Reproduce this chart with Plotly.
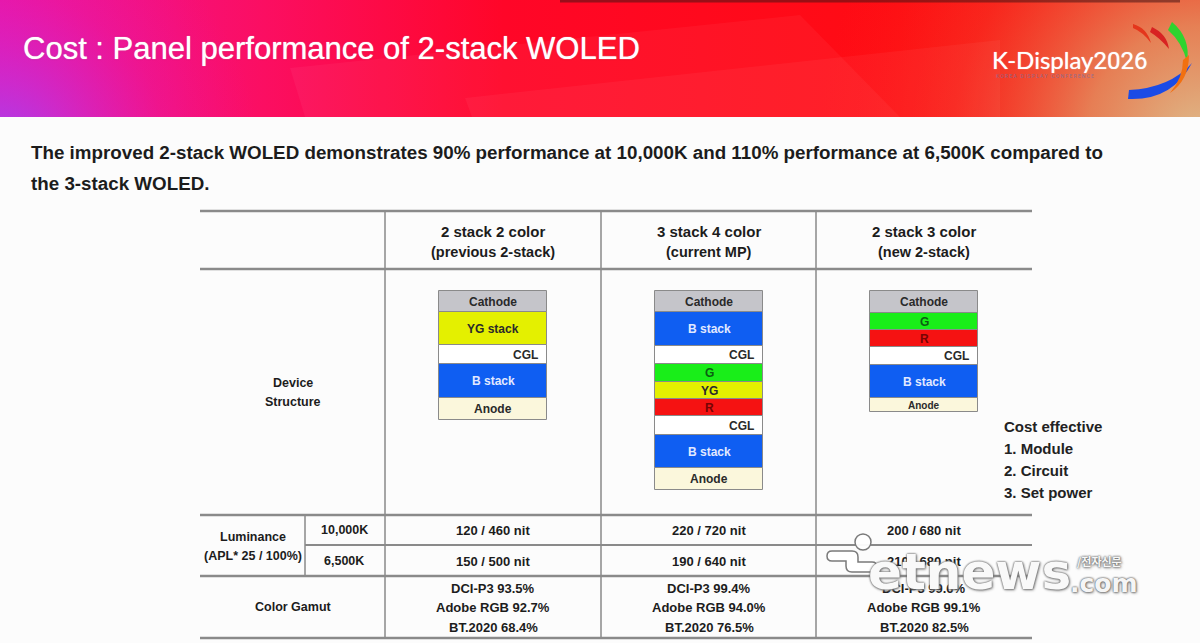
import numpy as np
import plotly.graph_objects as go

# ---- slide text ----
title_text = "Cost : Panel performance of 2-stack WOLED"
subtitle_lines = [
    "The improved 2-stack WOLED demonstrates 90% performance at 10,000K and 110% performance at 6,500K compared to",
    "the 3-stack WOLED.",
]

# ---- table data ----
col_titles = ["2 stack 2 color", "3 stack 4 color", "2 stack 3 color"]
col_subtitles = ["(previous 2-stack)", "(current MP)", "(new 2-stack)"]

stack_layers = [
    ["Cathode", "YG stack", "CGL", "B stack", "Anode"],
    ["Cathode", "B stack", "CGL", "G", "YG", "R", "CGL", "B stack", "Anode"],
    ["Cathode", "G", "R", "CGL", "B stack", "Anode"],
]
layer_thickness = [
    [21, 33, 19, 34, 22],
    [21, 34, 18, 18, 17, 17, 19, 33, 22],
    [22, 17, 17, 18, 33, 14],
]

lum_10000k = ["120 / 460 nit", "220 / 720 nit", "200 / 680 nit"]
lum_6500k = ["150 / 500 nit", "190 / 640 nit", "210 / 680 nit"]
gamut_dci = ["DCI-P3 93.5%", "DCI-P3 99.4%", "DCI-P3 99.6%"]
gamut_adobe = ["Adobe RGB 92.7%", "Adobe RGB 94.0%", "Adobe RGB 99.1%"]
gamut_bt2020 = ["BT.2020 68.4%", "BT.2020 76.5%", "BT.2020 82.5%"]

cost_notes = ["Cost effective", "1. Module", "2. Circuit", "3. Set power"]

# ---- styling ----
W, H = 1200, 643
HEAD = 117
NARROW = "Liberation Sans Narrow, Arial Narrow, Liberation Sans, Arial, sans-serif"
INK = "#1c1c1c"
LINE = "#8a8a8a"

layer_fill = {
    "Cathode": "#c5c5ca", "YG stack": "#e4f000", "YG": "#e4f000", "CGL": "#ffffff",
    "B stack": "#0f5ef2", "Anode": "#fbf7dc", "G": "#19ee19", "R": "#f51212",
}
layer_ink = {
    "Cathode": "#2a2a2a", "YG stack": "#2a2a2a", "YG": "#2a2a2a", "CGL": "#2a2a2a",
    "B stack": "#e2e9ff", "Anode": "#2a2a2a", "G": "#0b5e12", "R": "#760404",
}

col_x = [493, 709, 924]
stack_top = 291
stack_w = 108

fig = go.Figure()

# ---- header band (own subplot so the glows are clipped) ----
hdr = dict(xaxis="x2", yaxis="y2", mode="lines", line=dict(width=0),
           fill="toself", hoverinfo="skip", showlegend=False)
fig.add_trace(go.Scatter(
    x=[0, W, W, 0, 0], y=[0, 0, HEAD, HEAD, 0],
    fillgradient=dict(type="horizontal", colorscale=[
        [0, "#ec14a0"], [0.22, "#fb0e62"], [0.42, "#ff0628"], [0.75, "#ff0c12"], [1, "#f52818"]]),
    **hdr))
fig.add_trace(go.Scatter(
    x=[-260, 260, 260, -260, -260], y=[-100, -100, 420, 420, -100],
    fillgradient=dict(type="radial", colorscale=[
        [0, "rgba(150,75,250,0.95)"], [0.3, "rgba(185,55,235,0.6)"],
        [0.65, "rgba(215,35,210,0.2)"], [1, "rgba(230,20,190,0)"]]),
    **hdr))
fig.add_trace(go.Scatter(
    x=[820, 1580, 1580, 820, 820], y=[-240, -240, 520, 520, -240],
    fillgradient=dict(type="radial", colorscale=[
        [0, "rgba(222,188,140,1)"], [0.3, "rgba(226,150,100,0.8)"],
        [0.65, "rgba(240,80,50,0.3)"], [1, "rgba(250,40,30,0)"]]),
    **hdr))
fig.add_trace(go.Scatter(x=[290, 305, 900, 800, 290], y=[68, 117, 117, 15, 68],
                         fillcolor="rgba(255,255,255,0.045)", **hdr))
fig.add_trace(go.Scatter(x=[465, 472, 1000, 1000, 465], y=[98, 117, 117, 40, 98],
                         fillcolor="rgba(255,255,255,0.045)", **hdr))

# ---- layer stacks drawn as stacked bars ----
for ci, (names, thick) in enumerate(zip(stack_layers, layer_thickness)):
    bases = stack_top + np.concatenate([[0], np.cumsum(thick)[:-1]])
    fig.add_trace(go.Bar(
        x=[col_x[ci]] * len(names), y=thick, base=bases, width=stack_w,
        marker=dict(color=[layer_fill[n] for n in names], line=dict(color=LINE, width=1)),
        hoverinfo="skip", showlegend=False, xaxis="x", yaxis="y"))

annotations = []


def txt(x, y, s, size=13, color=INK, anchor="center", ref="", bold=True, family=NARROW, **kw):
    annotations.append(dict(
        x=x, y=y, xref="x" + ref, yref="y" + ref, text=s, showarrow=False,
        xanchor=anchor, yanchor="middle",
        font=dict(size=size, color=color, family=family, weight="bold" if bold else "normal", **kw)))


for ci, (names, thick) in enumerate(zip(stack_layers, layer_thickness)):
    bases = stack_top + np.concatenate([[0], np.cumsum(thick)[:-1]])
    for n, b, t in zip(names, bases, thick):
        size = 12 if t >= 17 else 10
        if n == "CGL":
            txt(col_x[ci] + stack_w / 2 - 7, b + t / 2, n, size, layer_ink[n], anchor="right")
        else:
            txt(col_x[ci], b + t / 2, n, size, layer_ink[n])

# header + title
txt(21, 48, title_text, 31, "white", anchor="left", ref="2", bold=False,
    shadow="0px 0px 1px rgba(255,255,255,0.9), 0px 0px 2px rgba(120,0,40,0.3)")
txt(990, 60, "K-Display<span style='font-family:Roboto'>2026</span>", 24, "white",
    anchor="left", ref="2", bold=False, family="Lato, Roboto, sans-serif",
    shadow="0px 0px 1px rgba(255,255,255,0.8)")
txt(994, 76, "K O R E A   D I S P L A Y   C O N F E R E N C E", 5, "rgba(120,110,160,0.8)",
    anchor="left", ref="2", bold=False, family="Roboto")

# subtitle
for i, s in enumerate(subtitle_lines):
    txt(29, 152 + 31 * i, s, 18.8, INK, anchor="left")

# table text
for ci in range(3):
    txt(col_x[ci], 231, col_titles[ci], 15)
    txt(col_x[ci], 252, col_subtitles[ci], 14.5)
    txt(col_x[ci], 530, lum_10000k[ci], 13)
    txt(col_x[ci], 561, lum_6500k[ci], 13)
    txt(col_x[ci], 588, gamut_dci[ci], 13)
    txt(col_x[ci], 607, gamut_adobe[ci], 13)
    txt(col_x[ci], 627, gamut_bt2020[ci], 13)

txt(293, 383, "Device", 12.5)
txt(293, 402, "Structure", 12.5)
txt(253, 537, "Luminance", 12.5)
txt(253, 556, "(APL* 25 / 100%)", 12.5)
txt(344, 530, "10,000K", 12.5)
txt(344, 561, "6,500K", 12.5)
txt(293, 607, "Color Gamut", 12.5)

for i, s in enumerate(cost_notes):
    txt(1002, 426 + 22 * i, s, 15, "#222", anchor="left")

# watermark
wm = "rgba(255,255,255,0.96)"
wm_shadow = "0px 0px 2px #6a6a6a, 0px 0px 2px #6a6a6a, 1px 1px 3px #888"
txt(866, 572, "etnews", 50, wm, anchor="left", family="DejaVu Sans", shadow=wm_shadow)
txt(1068, 583, ".com", 25, wm, anchor="left", family="DejaVu Sans", shadow=wm_shadow)
txt(1075, 561, "/전자신문", 11, wm, anchor="left", family="Noto Sans CJK KR", shadow=wm_shadow)

# ---- table rules and logo swoosh ----
shapes = []


def rule(x0, y0, x1, y1, w=1.5, c=LINE):
    shapes.append(dict(type="line", xref="x", yref="y", x0=x0, y0=y0, x1=x1, y1=y1,
                       line=dict(color=c, width=w), layer="below"))


for y in [211, 269, 515, 576, 638]:
    rule(200, y, 1032, y, 2.5)
rule(305, 545, 1032, 545, 2)
for x in [385, 601, 816]:
    rule(x, 211, x, 638, 1.5)
rule(305, 515, 305, 576, 1.5)

swoosh = [
    ("M 1128,99 Q 1172,101 1192,63 Q 1170,88 1129,90 Z", "#1b4be6"),
    ("M 1172,22 Q 1191,38 1187,62 Q 1182,42 1168,30 Z", "#2fd32f"),
    ("M 1189,55 Q 1189,80 1170,93 Q 1183,78 1183,60 Z", "#f27010"),
    ("M 1133,24 Q 1147,28 1151,43 Q 1143,32 1133,28 Z", "#e4361c"),
    ("M 1152,27 Q 1167,34 1169,49 Q 1160,38 1150,32 Z", "#d82222"),
]
for p, c in swoosh:
    shapes.append(dict(type="path", xref="x2", yref="y2", path=p, fillcolor=c,
                       line=dict(width=0)))
shapes.append(dict(type="rect", xref="x2", yref="y2", x0=560, x1=1180, y0=0, y1=2.5,
                   fillcolor="rgba(70,20,20,0.55)", line=dict(width=0)))

# etnews mark: a dot and a rounded bracket
logo_line = dict(color="#7a7a7a", width=1.5)
shapes.append(dict(type="circle", xref="x", yref="y", x0=855, x1=871, y0=534, y1=550,
                   fillcolor=wm, line=logo_line))
shapes.append(dict(type="path", xref="x", yref="y", fillcolor=wm, line=logo_line,
                   path="M 832,551 L 852,551 Q 858,551 858,557 L 858,562 L 872,562 "
                        "Q 877,562 877,567 Q 877,572 872,572 L 852,572 Q 846,572 846,566 "
                        "L 846,561 L 832,561 Q 827,561 827,556 Q 827,551 832,551 Z"))

axis_off = dict(visible=False, fixedrange=True)
fig.update_layout(
    width=W, height=H,
    margin=dict(l=0, r=0, t=0, b=0),
    paper_bgcolor="#fcfcfc", plot_bgcolor="rgba(0,0,0,0)",
    barmode="overlay", bargap=0, showlegend=False,
    xaxis=dict(range=[0, W], domain=[0, 1], anchor="y", **axis_off),
    yaxis=dict(range=[H, HEAD], domain=[0, 1 - HEAD / H], anchor="x", **axis_off),
    xaxis2=dict(range=[0, W], domain=[0, 1], anchor="y2", **axis_off),
    yaxis2=dict(range=[HEAD, 0], domain=[1 - HEAD / H, 1], anchor="x2", **axis_off),
    annotations=annotations, shapes=shapes,
)

fig.write_html("out.html", config=dict(displayModeBar=False),
               post_script="document.body.style.margin='0px';")
